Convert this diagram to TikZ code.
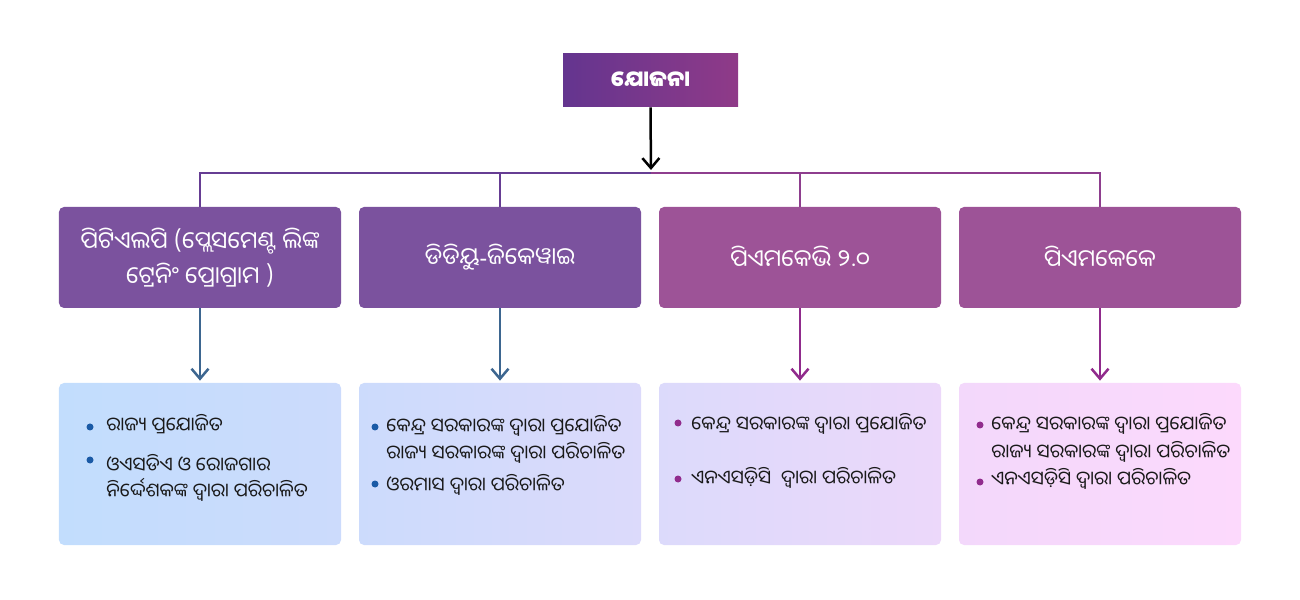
\documentclass[tikz,border=0pt]{standalone}
\usepackage{fontspec}
\newfontfamily\oriya[Script=Oriya]{Noto Sans Oriya UI}
\newfontfamily\latin{Noto Sans}
\usetikzlibrary{arrows.meta}

\definecolor{titreA}{HTML}{64358F}
\definecolor{titreB}{HTML}{8F3A88}
\definecolor{mauveA}{HTML}{7B529E}
\definecolor{mauveB}{HTML}{9D5397}
\definecolor{busA}{HTML}{663D93}
\definecolor{busB}{HTML}{8E3E8E}
\definecolor{flecheA}{HTML}{3D6690}
\definecolor{flecheB}{HTML}{902B8C}
\definecolor{puceA}{HTML}{1A5AA6}
\definecolor{puceB}{HTML}{912C8D}
\definecolor{fond1}{HTML}{C2DDFD}
\definecolor{fond2}{HTML}{CCDBFC}
\definecolor{fond3}{HTML}{DCDAFB}
\definecolor{fond4}{HTML}{ECD8FA}
\definecolor{fond5}{HTML}{F3D8FB}
\definecolor{fond6}{HTML}{FCD9FC}

\tikzstyle{titre} = [rectangle, left color=titreA, right color=titreB, text=white, minimum width=35mm, minimum height=10.6mm, font=\oriya\bfseries\fontsize{12.5}{14}\selectfont]
\tikzstyle{schema} = [rectangle, rounded corners=1mm, text=white, minimum width=56.4mm, minimum height=20.2mm, align=center, font=\oriya\fontsize{13.4}{20}\selectfont]
\tikzstyle{cadre} = [rectangle, rounded corners=1mm, minimum width=56.4mm, minimum height=32.4mm]
\tikzstyle{ligne} = [anchor=base west, inner sep=0pt, text=black!90, font=\oriya\fontsize{10.8}{13}\selectfont]
\tikzstyle{puce} = [circle, inner sep=0pt, minimum size=1.4mm]
\tikzstyle{bus} = [line width=0.4mm]
\tikzstyle{fleche} = [line width=0.5mm, -{Straight Barb[length=2mm, width=3.4mm, line width=0.5mm]}]

\begin{document}
\begin{tikzpicture}[x=0.2mm, y=-0.2mm]

    \useasboundingbox (0,0) rectangle (1300,600);

    %  nodes
    \node[titre] (Y) at (650.5,80.5) {ଯୋଜନା};
    \coordinate (bus) at (651,173);

    %-------------------------------------------------------------
    \node[schema, fill=mauveA] (P1) at (200,257.5) {ପିଟିଏଲପି (ପ୍ଲେସମେଣ୍ଟ ଲିଙ୍କ\\ଟ୍ରେନିଂ ପ୍ରୋଗ୍ରାମ )};
    \node[schema, fill=mauveA] (P2) at (500,257.5) {ଡିଡିୟୁ{\latin -}ଜିକେୱାଇ};
    \node[schema, fill=mauveB] (P3) at (800,257.5) {ପିଏମକେଭି ୨.୦};
    \node[schema, fill=mauveB] (P4) at (1100,257.5) {ପିଏମକେକେ};

    %-------------------------------------------------------------
    \node[cadre, left color=fond1, right color=fond2] (C1) at (200,464) {};
    \node[cadre, left color=fond2, right color=fond3] (C2) at (500,464) {};
    \node[cadre, left color=fond3, right color=fond4] (C3) at (800,464) {};
    \node[cadre, left color=fond5, right color=fond6] (C4) at (1100,464) {};

    %-------------------------------------------------------------
    \draw[fleche, draw=black, shorten >=0.6mm] (Y.south) -- (bus);
    \draw[bus, draw=busA] (P1.north) |- (bus);
    \draw[bus, draw=busA] (P2.north) |- (bus);
    \draw[bus, draw=busB] (P3.north) |- (bus);
    \draw[bus, draw=busB] (P4.north) |- (bus);

    \draw[fleche, draw=flecheA, shorten >=0.4mm] (P1.south) -- (C1.north);
    \draw[fleche, draw=flecheA, shorten >=0.4mm] (P2.south) -- (C2.north);
    \draw[fleche, draw=flecheB, shorten >=0.4mm] (P3.south) -- (C3.north);
    \draw[fleche, draw=flecheB, shorten >=0.4mm] (P4.south) -- (C4.north);

    %-------------------------------------------------------------
    \node[puce, fill=puceA] (p1a) at (90,427) {};
    \node[ligne] (t1a) at (106,432) {ରାଜ୍ୟ ପ୍ରଯୋଜିତ};
    \node[puce, fill=puceA] (p1b) at (90,460) {};
    \node[ligne] (t1b) at (106,472) {ଓଏସଡିଏ ଓ ରୋଜଗାର};
    \node[ligne] (t1c) at (106,498) {ନିର୍ଦ୍ଦେଶକଙ୍କ ଦ୍ୱାରା ପରିଚାଳିତ};

    \node[puce, fill=puceA] (p2a) at (375,427) {};
    \node[ligne] (t2a) at (386,433) {କେନ୍ଦ୍ର ସରକାରଙ୍କ ଦ୍ୱାରା ପ୍ରଯୋଜିତ};
    \node[ligne] (t2b) at (386,460) {ରାଜ୍ୟ ସରକାରଙ୍କ ଦ୍ୱାରା ପରିଚାଳିତ};
    \node[puce, fill=puceA] (p2b) at (375,484) {};
    \node[ligne] (t2c) at (386,493) {ଓରମାସ ଦ୍ୱାରା ପରିଚାଳିତ};

    \node[puce, fill=puceB] (p3a) at (678,423) {};
    \node[ligne] (t3a) at (691,431) {କେନ୍ଦ୍ର ସରକାରଙ୍କ ଦ୍ୱାରା ପ୍ରଯୋଜିତ};
    \node[puce, fill=puceB] (p3b) at (678,479) {};
    \node[ligne] (t3b) at (691,485) {ଏନଏସଡ଼ିସି\ \ ଦ୍ୱାରା ପରିଚାଳିତ};

    \node[puce, fill=puceB] (p4a) at (980,425) {};
    \node[ligne] (t4a) at (991,431) {କେନ୍ଦ୍ର ସରକାରଙ୍କ ଦ୍ୱାରା ପ୍ରଯୋଜିତ};
    \node[ligne] (t4b) at (991,459) {ରାଜ୍ୟ ସରକାରଙ୍କ ଦ୍ୱାରା ପରିଚାଳିତ};
    \node[puce, fill=puceB] (p4b) at (980,482) {};
    \node[ligne] (t4c) at (991,486) {ଏନଏସଡ଼ିସି ଦ୍ୱାରା ପରିଚାଳିତ};

\end{tikzpicture}
\end{document}
